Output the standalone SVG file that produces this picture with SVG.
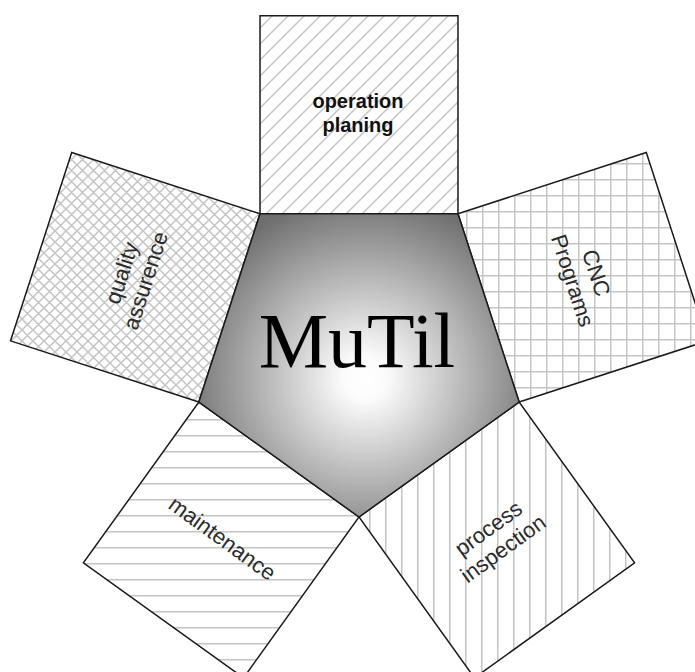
<svg xmlns="http://www.w3.org/2000/svg" width="695" height="672" viewBox="0 0 695 672">
  <defs>
    <style>
      .sq { stroke: #1a1a1a; stroke-width: 1.5; stroke-linejoin: miter; }
      .hatch { stroke: #c4c4c4; stroke-width: 1.5; fill: none; }
      .lbl { font-family: "Liberation Sans", Arial, sans-serif; font-size: 22px; fill: #2a2a2a; text-anchor: middle; }
      .lblb { font-family: "Liberation Sans", Arial, sans-serif; font-size: 20px; font-weight: bold; fill: #111; text-anchor: middle; }
      .title { font-family: "Liberation Serif", "Times New Roman", serif; font-size: 78px; fill: #000; text-anchor: middle; }
    </style>
    <pattern id="pDiag" patternUnits="userSpaceOnUse" width="16" height="16">
      <rect width="16" height="16" fill="#fff"/>
      <path class="hatch" d="M-4,4 L4,-4 M0,16 L16,0 M12,20 L20,12"/>
    </pattern>
    <pattern id="pCross" patternUnits="userSpaceOnUse" width="11" height="11">
      <rect width="11" height="11" fill="#fff"/>
      <path class="hatch" d="M-3,3 L3,-3 M0,11 L11,0 M8,14 L14,8 M-3,8 L3,14 M0,0 L11,11 M8,-3 L14,3"/>
    </pattern>
    <pattern id="pGrid" patternUnits="userSpaceOnUse" x="2" y="3" width="16" height="16">
      <rect width="16" height="16" fill="#fff"/>
      <path class="hatch" d="M0.75,0 V16 M0,0.75 H16"/>
    </pattern>
    <pattern id="pH" patternUnits="userSpaceOnUse" x="0" y="3" width="16" height="16">
      <rect width="16" height="16" fill="#fff"/>
      <path class="hatch" d="M0,0.75 H16"/>
    </pattern>
    <pattern id="pV" patternUnits="userSpaceOnUse" x="1" y="0" width="16" height="16">
      <rect width="16" height="16" fill="#fff"/>
      <path class="hatch" d="M0.75,0 V16"/>
    </pattern>
    <radialGradient id="gCore" gradientUnits="userSpaceOnUse" cx="365" cy="378" r="185">
      <stop offset="0" stop-color="#ffffff"/>
      <stop offset="0.12" stop-color="#fbfbfb"/>
      <stop offset="1" stop-color="#6e6e6e"/>
    </radialGradient>
  </defs>
  <rect width="695" height="672" fill="#fff"/>

  <g id="operation-planing">
    <polygon class="sq" fill="url(#pDiag)" points="260.02,213.76 457.98,213.76 457.98,15.76 260.02,15.76"/>
    <text class="lblb" x="358" y="107.5">operation</text>
    <text class="lblb" x="358" y="131.5">planing</text>
  </g>

  <g id="quality-assurence">
    <polygon class="sq" fill="url(#pCross)" points="198.84,402.04 260.02,213.76 71.71,152.57 10.53,340.85"/>
    <g transform="translate(135.3,277.3) rotate(-72)">
      <text class="lbl" x="0" y="-6.8">quality</text>
      <text class="lbl" x="0" y="18.2">assurence</text>
    </g>
  </g>

  <g id="cnc-programs">
    <polygon class="sq" fill="url(#pGrid)" points="457.98,213.76 519.16,402.04 707.47,340.85 646.29,152.57"/>
    <g transform="translate(582.7,277.3) rotate(72)">
      <text class="lbl" x="0" y="-6.8">CNC</text>
      <text class="lbl" x="0" y="18.2">Programs</text>
    </g>
  </g>

  <g id="process-inspection">
    <polygon class="sq" fill="url(#pV)" points="519.16,402.04 359,517 474.45,677.85 634.61,562.89"/>
    <g transform="translate(496.8,539.9) rotate(-36)">
      <text class="lbl" x="0" y="-6.8">process</text>
      <text class="lbl" x="0" y="18.2">inspection</text>
    </g>
  </g>

  <g id="maintenance">
    <polygon class="sq" fill="url(#pH)" points="359,517 198.84,402.04 83.39,562.89 243.55,677.85"/>
    <g transform="translate(221.2,539.9) rotate(36)">
      <text class="lbl" x="0" y="5.7">maintenance</text>
    </g>
  </g>

  <g id="mutil">
    <polygon class="sq" fill="url(#gCore)" points="260.02,213.76 457.98,213.76 519.16,402.04 359,517 198.84,402.04"/>
    <text class="title" x="357" y="367">MuTil</text>
  </g>

  <g id="connectors"/>
</svg>
